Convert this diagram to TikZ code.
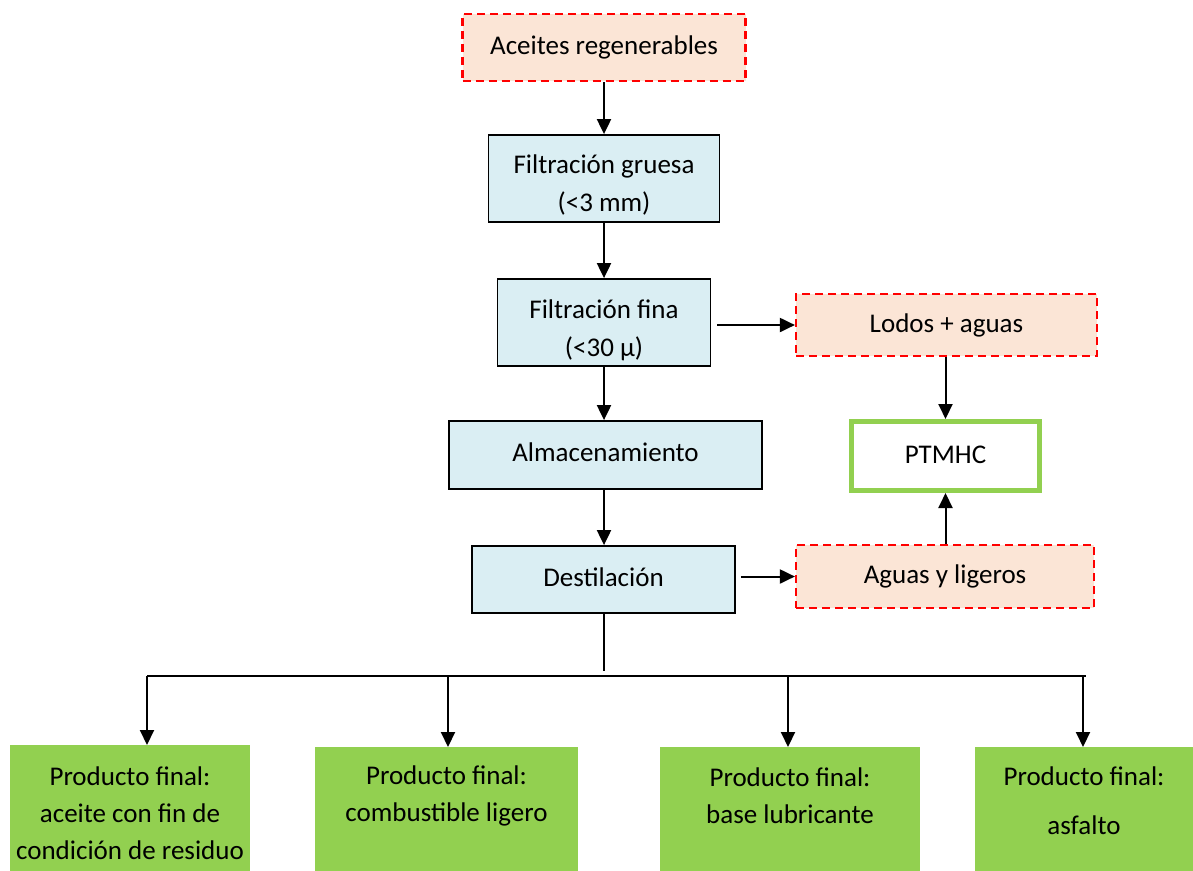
\documentclass[tikz,border=0pt]{standalone}
\usepackage{fontspec}
\setmainfont{Carlito}
\usetikzlibrary{arrows.meta}
\definecolor{peach}{RGB}{251,229,214}
\definecolor{lblue}{RGB}{218,238,243}
\definecolor{lgreen}{RGB}{146,208,80}
\newcommand{\shiftt}[2]{\raisebox{#1}[\height][\depth]{#2}}
\begin{document}
\begin{tikzpicture}[x=1pt,y=-1pt,
  every node/.style={font=\fontsize{27}{37}\selectfont, inner sep=0pt, align=center},
  redbox/.style={draw=red, fill=peach, line width=2.2pt, dash pattern=on 8pt off 5pt},
  bluebox/.style={draw=black, fill=lblue, line width=1.8pt},
  greenbox/.style={fill=lgreen},
  ptbox/.style={draw=lgreen, fill=white, line width=5pt},
  arr/.style={line width=2pt, -{Triangle[width=14pt,length=15pt]}},
  ln/.style={line width=2pt}]
\useasboundingbox (0,0) rectangle (1193,870);
% boxes
\node[redbox, minimum width=283pt, minimum height=67pt] (a) at (604,47.5) {Aceites regenerables};
\node[bluebox, minimum width=231pt, minimum height=87pt] (fg) at (604,178.5) {\shiftt{-7pt}{\begin{tabular}{@{}c@{}}Filtración gruesa\\[1pt](<3 mm)\end{tabular}}};
\node[bluebox, minimum width=213pt, minimum height=87pt] (ff) at (604,322.5) {\shiftt{-8pt}{\begin{tabular}{@{}c@{}}Filtración fina\\[1pt](<30 µ)\end{tabular}}};
\node[bluebox, minimum width=313pt, minimum height=68pt] (al) at (605.5,455) {\shiftt{3pt}{Almacenamiento}};
\node[bluebox, minimum width=263pt, minimum height=67pt] (de) at (603.5,579.5) {\shiftt{2pt}{Destilación}};
\node[redbox, minimum width=301pt, minimum height=62pt] (lo) at (946.5,325) {Lodos + aguas};
\node[ptbox, minimum width=188pt, minimum height=69pt] (pt) at (945.5,456) {\shiftt{1pt}{PTMHC}};
\node[redbox, minimum width=298pt, minimum height=63pt] (ag) at (945,576.5) {Aguas y ligeros};
% products
\node[greenbox, minimum width=240pt, minimum height=126pt, anchor=north] (p1) at (130,745) {};
\node[greenbox, minimum width=263pt, minimum height=124pt, anchor=north] (p2) at (446.5,747) {};
\node[greenbox, minimum width=260pt, minimum height=124pt, anchor=north] (p3) at (790,747) {};
\node[greenbox, minimum width=218pt, minimum height=124pt, anchor=north] (p4) at (1084,747) {};
\node (t1) at (130,813) {Producto final:\\aceite con fin de\\condición de residuo};
\node (t2) at (446.5,796) {Producto final:\\combustible ligero};
\node (t3) at (790,796) {Producto final:\\base lubricante};
\node (t4) at (1084,801) {Producto final:\\[12pt]asfalto};
% connectors
\draw[arr] (a.south) -- (fg.north);
\draw[arr] (fg.south) -- (ff.north);
\draw[arr] (ff.south) -- (ff.south |- al.north);
\draw[arr] (ff.south |- al.south) -- (ff.south |- de.north);
\draw[arr] ([xshift=6pt]ff.east |- lo.west) -- (lo.west);
\draw[arr] ([xshift=5pt]de.east |- ag.west) -- (ag.west);
\draw[arr] (lo.south -| pt.north) -- (pt.north);
\draw[arr] (ag.north -| pt.south) -- (pt.south);
\coordinate (hl) at (147,676);
\coordinate (hr) at (1086,676);
\coordinate (st) at (604,671);
\draw[ln] (604,613) -- (st);
\draw[ln] (hl) -- (hr);
\draw[arr] (hl) -- (hl |- p1.north);
\draw[arr] (448,676) -- (448,747);
\draw[arr] (788,676) -- (788,747);
\draw[arr] (1083,676) -- (1083,747);
\end{tikzpicture}
\end{document}
